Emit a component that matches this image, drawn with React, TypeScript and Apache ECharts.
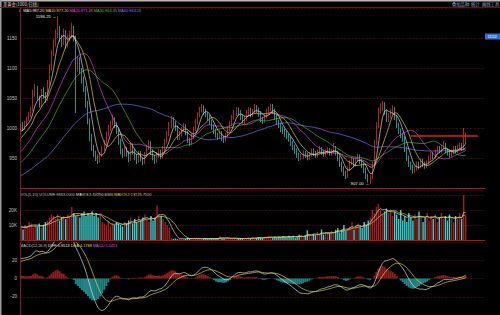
import { useEffect, useRef } from 'react';
import * as echarts from 'echarts';

// hidden history used only to seed the indicators
const preCloses = [
  885, 890, 882, 878, 886, 895, 900, 893, 888, 896,
  902, 908, 899, 894, 890, 897, 905, 910, 903, 898,
  892, 900, 906, 912, 905, 899, 903, 909, 915, 908,
  902, 897, 904, 911, 906, 900, 907, 913, 910, 905,
  915, 922, 918, 928, 935, 930, 940, 946, 942, 955,
  960, 968, 962, 975, 982, 978, 990, 985, 995, 1000,
];
const preVolumes = [9, 8, 10, 7, 9, 11, 8, 10, 9, 8];

// [open, close, low, high]
const candlesA: number[][] = [
  [998, 1003, 994, 1008], [1003, 1000, 995, 1010], [1000, 1008, 997, 1012], [1008, 1015, 1004, 1019],
  [1015, 1022, 1012, 1027], [1022, 1030, 1018, 1035], [1030, 1058, 1028, 1064], [1058, 1066, 1052, 1074],
  [1066, 1050, 1046, 1070], [1050, 1038, 1034, 1054], [1038, 1060, 1035, 1065], [1060, 1055, 1049, 1068],
  [1055, 1048, 1042, 1060], [1048, 1075, 1045, 1080], [1075, 1100, 1072, 1106], [1100, 1125, 1096, 1130],
  [1125, 1140, 1120, 1148], [1140, 1158, 1136, 1164], [1158, 1165, 1150, 1186.25], [1165, 1150, 1144, 1170],
  [1150, 1142, 1135, 1155], [1142, 1160, 1138, 1166], [1160, 1138, 1132, 1163], [1138, 1150, 1134, 1156],
  [1150, 1156, 1145, 1162], [1156, 1166, 1150, 1176], [1166, 1150, 1144, 1170], [1150, 1100, 1025, 1154],
  [1100, 1112, 1094, 1120], [1112, 1095, 1090, 1118], [1095, 1080, 1074, 1100], [1080, 1066, 1060, 1086],
  [1066, 1040, 1034, 1070], [1040, 1012, 1006, 1045], [1012, 985, 978, 1016], [985, 968, 962, 990],
  [968, 958, 952, 972], [958, 950, 945, 962], [950, 945, 940, 956], [945, 955, 942, 960],
  [955, 966, 952, 970], [966, 976, 962, 980], [976, 990, 972, 994], [990, 1000, 986, 1005],
  [1000, 1008, 995, 1012], [1008, 1015, 1004, 1022], [1015, 1006, 1000, 1018], [1006, 995, 990, 1010],
  [995, 978, 972, 998], [978, 962, 956, 982], [962, 955, 950, 966], [955, 965, 952, 970],
  [965, 958, 952, 968], [958, 948, 943, 962], [948, 970, 945, 975], [970, 962, 956, 974],
  [962, 952, 946, 966], [952, 945, 940, 956], [945, 958, 942, 962], [958, 948, 944, 962],
  [948, 942, 938, 952], [942, 955, 940, 960], [955, 968, 952, 972], [968, 975, 964, 980],
  [975, 960, 955, 978], [960, 950, 946, 964], [950, 945, 940, 955], [945, 955, 942, 960],
  [955, 960, 950, 965], [960, 952, 948, 964], [952, 965, 949, 970], [965, 978, 962, 982],
  [978, 990, 974, 995], [990, 1005, 986, 1010], [1005, 1015, 1000, 1020], [1015, 1008, 1002, 1018],
  [1008, 1000, 995, 1012], [1000, 985, 980, 1004], [985, 990, 980, 995], [990, 998, 986, 1002],
  [998, 1002, 994, 1008], [1002, 992, 988, 1006], [992, 980, 975, 995], [980, 975, 970, 984],
  [975, 985, 972, 990], [985, 998, 982, 1002], [998, 1010, 995, 1015], [1010, 1022, 1006, 1026],
  [1022, 1030, 1018, 1035], [1030, 1035, 1026, 1040], [1035, 1028, 1022, 1038], [1028, 1022, 1018, 1032],
  [1022, 1018, 1012, 1026], [1018, 1010, 1005, 1022], [1010, 1002, 997, 1014], [1002, 995, 990, 1006],
  [995, 988, 984, 999], [988, 985, 980, 992], [985, 992, 982, 996], [992, 983, 978, 995],
  [983, 980, 975, 987], [980, 988, 977, 992], [988, 998, 985, 1002], [998, 1008, 994, 1012],
  [1008, 1018, 1004, 1022], [1018, 1025, 1014, 1030], [1025, 1030, 1020, 1035], [1030, 1026, 1021, 1034],
  [1026, 1018, 1013, 1030], [1018, 1012, 1008, 1022],
];
const candlesB: number[][] = [
  [1012, 1015, 1006, 1020], [1015, 1025, 1012, 1030],
  [1025, 1030, 1020, 1035], [1030, 1022, 1018, 1034], [1022, 1028, 1018, 1032], [1028, 1035, 1024, 1040],
  [1035, 1030, 1025, 1038], [1030, 1024, 1019, 1034], [1024, 1015, 1010, 1028], [1015, 1012, 1007, 1019],
  [1012, 1020, 1009, 1024], [1020, 1028, 1016, 1032], [1028, 1032, 1024, 1036], [1032, 1036, 1028, 1041],
  [1036, 1028, 1023, 1040], [1028, 1018, 1013, 1032], [1018, 1010, 1005, 1022], [1010, 1005, 1000, 1014],
  [1005, 998, 993, 1009], [998, 995, 990, 1003], [995, 990, 985, 999], [990, 986, 981, 995],
  [986, 982, 977, 990], [982, 975, 970, 986], [975, 968, 963, 979], [968, 962, 957, 972],
  [962, 955, 950, 966], [955, 950, 945, 959], [950, 952, 946, 957], [952, 958, 948, 962],
  [958, 955, 950, 962], [955, 950, 946, 959], [950, 956, 947, 960], [956, 962, 952, 966],
  [962, 958, 953, 966], [958, 954, 950, 962], [954, 960, 951, 964], [960, 965, 956, 970],
  [965, 960, 955, 968], [960, 956, 952, 964], [956, 960, 952, 964], [960, 964, 956, 968],
  [964, 958, 954, 967], [958, 962, 954, 966], [962, 966, 958, 975], [966, 958, 954, 970],
  [958, 950, 945, 962], [950, 940, 935, 954], [940, 932, 927, 944], [932, 925, 920, 936],
  [925, 920, 915, 929], [920, 932, 917, 936], [932, 942, 928, 946], [942, 946, 938, 951],
  [946, 940, 935, 950], [940, 948, 936, 952], [948, 952, 944, 957], [952, 945, 940, 956],
  [945, 938, 933, 949], [938, 930, 925, 942], [930, 920, 915, 934], [920, 914, 909, 924],
  [914, 918, 907, 922], [918, 940, 915, 944], [940, 975, 937, 980], [975, 1005, 972, 1010],
  [1005, 1030, 1000, 1034], [1030, 1036, 1024, 1041], [1036, 1040, 1028, 1045], [1040, 1028, 1022, 1043],
  [1028, 1015, 1010, 1031], [1015, 1020, 1010, 1025], [1020, 1028, 1016, 1032], [1028, 1032, 1022, 1038],
  [1032, 1018, 1013, 1035], [1018, 1005, 1000, 1022], [1005, 995, 990, 1009], [995, 988, 983, 999],
  [988, 982, 977, 992], [982, 965, 960, 986], [965, 950, 945, 969], [950, 940, 935, 954],
  [940, 935, 930, 944], [935, 928, 924, 939], [928, 932, 925, 936], [932, 940, 929, 944],
  [940, 936, 931, 944], [936, 945, 933, 949], [945, 940, 935, 949], [940, 936, 932, 944],
  [936, 942, 933, 946], [942, 950, 939, 954], [950, 956, 946, 960], [956, 952, 948, 960],
  [952, 960, 949, 964], [960, 966, 956, 970], [966, 962, 958, 970], [962, 968, 958, 972],
  [968, 972, 964, 978], [972, 962, 958, 975], [962, 958, 954, 966], [958, 955, 951, 962],
  [955, 960, 952, 964], [960, 966, 956, 970], [966, 962, 958, 970], [962, 968, 958, 972],
  [968, 972, 964, 976], [972, 966, 962, 975], [966, 978, 963, 1000], [978, 987, 974, 992],
];

// volume in thousands
const volumesA = [
  8, 7, 10, 9, 12, 11, 8, 10, 9, 11, 8, 10, 12,
  13, 15, 17, 16, 14, 17, 13, 15, 16, 14, 17, 15, 22, 18, 16,
  17, 15, 18, 19, 16, 18, 17, 19, 16, 18, 15, 17,
  12, 11, 10, 12, 9, 11, 10, 12, 11, 10, 9, 12, 11,
  13, 15, 11, 14, 12, 16, 13, 15, 17, 14, 12, 16, 13, 15, 23, 17,
  16, 14, 12, 10, 8,
];
const volumesB = [
  1.2, 0.8, 1.0, 0.6, 0.9, 1.1, 0.7, 0.8, 1.5, 0.9,
  1.0, 0.6, 0.8, 1.2, 0.9, 0.7, 1.0, 1.3, 0.8, 0.9,
  1.1, 0.6, 1.0, 1.4, 2.5, 1.2, 0.9, 1.1, 1.5, 1.0,
  0.8, 1.2, 0.7, 1.0, 1.3, 0.9, 1.1, 0.8, 1.6, 1.0,
  1.8, 1.2, 1.4, 2.0, 1.6, 1.3, 2.2, 1.8, 2.5, 1.9,
  1.5, 2.1, 1.7, 2.4, 1.9, 2.6, 2.0, 1.8, 2.9, 2.2,
  2.8, 1.5, 2.2, 3.5, 2.8, 2.0, 3.0, 6.5, 3.8, 2.5,
  4.0, 3.2, 5.5, 4.0, 7.0, 3.6, 4.8, 5.2, 4.4, 6.0,
  5.0, 6.8,
];
const volumesC = [
  8, 5, 7, 10, 6, 8, 9, 12, 7, 10, 11, 9, 8, 12, 10, 13, 15,
  20, 18, 22, 24, 20, 17, 19, 21, 18, 20,
  16, 19, 17, 14, 20, 13, 16, 12, 18, 15,
  13, 17, 14, 19, 16, 12, 15, 18, 13, 16,
  14, 17, 12, 15, 18, 14, 16, 13, 17, 15,
  12, 16, 14, 18,
  14, 30, 16,
];

const priceTicks = [950, 1000, 1050, 1100, 1150];
const volTicks = [10, 20];
const macdTicks = [-20, 0, 20];
const emptySlots = 9;
const arrowFrom = 192;
const arrowTo = 225;
const arrowPrice = 987;

const titleText = '美黄金(1000/日线)';
const topButtons = ['叠加品种', '统计', '画线工具'];
const cursorTag = '1152';
const maLegend = [
  { text: '4  MA5:987.20', color: '#e6e6e6' },
  { text: 'MA10:977.20', color: '#e8d84a' },
  { text: 'MA20:971.28', color: '#e04ce0' },
  { text: 'MA30:963.45', color: '#3fc43f' },
  { text: 'MA60:963.26', color: '#7a7aff' },
];
const volLegend = [
  { text: 'VOL(5,10)', color: '#c8c8c8' },
  { text: 'VOLUME:8663.0000', color: '#c8c8c8' },
  { text: 'MAVOL1:10250.6000', color: '#e6e6e6' },
  { text: 'MAVOL2:13126.7500', color: '#e8d84a' },
];
const macdLegend = [
  { text: 'MACD(12,26,9)', color: '#c8c8c8' },
  { text: 'DIFF:6.9513', color: '#e6e6e6' },
  { text: 'DEA:4.1788', color: '#e8d84a' },
  { text: 'MACD:5.5451', color: '#e04ce0' },
];

const FONT = 'Liberation Sans';

function movingAvg(all: number[], n: number, offset: number, len: number) {
  const out: (number | string)[] = [];
  for (let i = 0; i < len; i++) {
    const end = i + offset;
    if (end - n + 1 < 0) { out.push('-'); continue; }
    let s = 0;
    for (let k = end - n + 1; k <= end; k++) s += all[k];
    out.push(+(s / n).toFixed(2));
  }
  return out;
}

function ema(arr: number[], n: number) {
  const k = 2 / (n + 1);
  const out: number[] = [];
  arr.forEach((v, i) => out.push(i === 0 ? v : v * k + out[i - 1] * (1 - k)));
  return out;
}

function legendText(items: { text: string; color: string }[], x: number, y: number) {
  const rich: Record<string, any> = {};
  items.forEach((it, i) => {
    rich['s' + i] = { fill: it.color, fontSize: 3.9, fontFamily: FONT };
  });
  return {
    type: 'text',
    left: x,
    top: y,
    silent: true,
    style: {
      text: items.map((it, i) => `{s${i}|${it.text}}`).join('{s0| }'),
      rich,
      fontSize: 3.9,
      fontFamily: FONT,
    },
  };
}

export default function App() {
  const ref = useRef<HTMLDivElement>(null);
  useEffect(() => {
    if (!ref.current) return;
    const chart = echarts.init(ref.current, undefined, { renderer: 'svg' });
    const candles = candlesA.concat(candlesB);
    const volumes = volumesA.concat(volumesB, volumesC);
    const n = candles.length;
    const cats = Array.from({ length: n + emptySlots }, (_, i) => String(i));
    const closes = candles.map((c) => c[1]);
    const allCloses = preCloses.concat(closes);
    const off = preCloses.length;
    const allVol = preVolumes.concat(volumes);
    const voff = preVolumes.length;

    const ma5 = movingAvg(allCloses, 5, off, n);
    const ma10 = movingAvg(allCloses, 10, off, n);
    const ma20 = movingAvg(allCloses, 20, off, n);
    const ma30 = movingAvg(allCloses, 30, off, n);
    const ma60 = movingAvg(allCloses, 60, off, n);
    const mv5 = movingAvg(allVol, 5, voff, n);
    const mv10 = movingAvg(allVol, 10, voff, n);

    const e12 = ema(allCloses, 12);
    const e26 = ema(allCloses, 26);
    const diffAll = e12.map((v, i) => v - e26[i]);
    const deaAll = ema(diffAll, 9);
    const diff = diffAll.slice(off).map((v) => +v.toFixed(3));
    const dea = deaAll.slice(off).map((v) => +v.toFixed(3));
    const hist = diff.map((v, i) => {
      const h = +(v - dea[i]).toFixed(3);
      return { value: h, itemStyle: { color: h >= 0 ? '#8e2020' : '#1f8486' } };
    });

    const volData = volumes.map((v, i) => ({
      value: v,
      itemStyle: { color: candles[i][1] >= candles[i][0] ? '#a31e1e' : '#3ecfcf' },
    }));

    const dashed = { show: true, lineStyle: { color: '#5a1010', type: 'dashed' as const, width: 0.6 } };
    const axisLbl = (ticks: number[], fmt: (v: number) => string) => ({
      color: '#c0c0c0',
      fontSize: 4.6,
      margin: 3,
      fontFamily: FONT,
      formatter: (v: number) => (ticks.includes(Math.round(v * 1000) / 1000) ? fmt(v) : ''),
    });
    const xBase = (gi: number, showLine: boolean) => ({
      type: 'category' as const,
      gridIndex: gi,
      data: cats,
      boundaryGap: true,
      axisLabel: { show: false },
      axisTick: { show: false },
      axisLine: { show: showLine, lineStyle: { color: '#a01c1c', width: 1 } },
      splitLine: { show: false },
    });
    const lineS = (data: any[], color: string, xi: number, yi: number) => ({
      type: 'line',
      data,
      xAxisIndex: xi,
      yAxisIndex: yi,
      symbol: 'none',
      lineStyle: { color, width: 0.65 },
      silent: true,
    });
    const yBase = (gi: number, min: number, max: number, interval: number) => ({
      gridIndex: gi, min, max, interval,
      axisLine: { show: true, lineStyle: { color: '#7a2020' } },
      axisTick: { show: false },
      splitLine: dashed,
    });

    chart.setOption({
      animation: false,
      backgroundColor: '#000',
      grid: [
        { left: 20, right: 15, top: 8, height: 180 },
        { left: 20, right: 15, top: 190, height: 50 },
        { left: 20, right: 15, top: 242, height: 80 },
      ],
      xAxis: [xBase(0, true), xBase(1, true), xBase(2, false)],
      yAxis: [
        { ...yBase(0, 900, 1200, 50), axisLabel: axisLbl(priceTicks, (v) => String(v)) },
        { ...yBase(1, 0, 100 / 3, 10), axisLabel: axisLbl(volTicks, (v) => v + 'K') },
        { ...yBase(2, -40, 40, 20), axisLabel: axisLbl(macdTicks, (v) => String(v)) },
      ],
      series: [
        {
          type: 'candlestick',
          data: candles,
          xAxisIndex: 0,
          yAxisIndex: 0,
          barWidth: '62%',
          itemStyle: {
            color: '#000',
            color0: '#3ecfcf',
            borderColor: '#ff3434',
            borderColor0: '#3ecfcf',
            borderWidth: 0.7,
          },
          markPoint: {
            symbol: 'circle',
            symbolSize: 0.1,
            silent: true,
            label: {
              show: true,
              position: 'left',
              distance: 1,
              color: '#e6e6e6',
              fontSize: 4.3,
              fontFamily: FONT,
              formatter: (p: any) => Number(p.value).toFixed(2) + ' →',
            },
            data: [
              { type: 'max', valueDim: 'highest' },
              { type: 'min', valueDim: 'lowest' },
            ],
          },
          markLine: {
            silent: true,
            symbol: ['none', 'arrow'],
            symbolSize: [0, 6],
            label: { show: false },
            lineStyle: { color: '#d42424', width: 1.6, type: 'solid' },
            data: [[
              { coord: [String(arrowFrom), arrowPrice], symbol: 'none' },
              { coord: [String(arrowTo), arrowPrice], symbol: 'arrow' },
            ]],
          },
        },
        lineS(ma60, '#7a7aff', 0, 0),
        lineS(ma30, '#3fc43f', 0, 0),
        lineS(ma20, '#e04ce0', 0, 0),
        lineS(ma10, '#e8d84a', 0, 0),
        lineS(ma5, '#e6e6e6', 0, 0),
        { type: 'bar', data: volData, xAxisIndex: 1, yAxisIndex: 1, barWidth: '70%', silent: true },
        lineS(mv5, '#e6e6e6', 1, 1),
        lineS(mv10, '#e8d84a', 1, 1),
        { type: 'bar', data: hist, xAxisIndex: 2, yAxisIndex: 2, barWidth: '100%', silent: true },
        lineS(diff, '#e6e6e6', 2, 2),
        lineS(dea, '#e8d84a', 2, 2),
      ],
      graphic: [
        { type: 'rect', left: 0, top: 0, shape: { width: 500, height: 1.5 }, style: { fill: '#b8b8b8' }, silent: true },
        { type: 'rect', left: 0, top: 0, shape: { width: 1.5, height: 315 }, style: { fill: '#9a9a9a' }, silent: true },
        { type: 'line', shape: { x1: 0, y1: 7.5, x2: 500, y2: 7.5 }, style: { stroke: '#7a1a1a', lineWidth: 0.8 }, silent: true },
        {
          type: 'text', left: 3, top: 2.2,
          style: { text: titleText, fill: '#d8d8d8', fontSize: 4.3, fontFamily: 'Noto Sans CJK SC' }, silent: true,
        },
        ...topButtons.map((t, i) => ({
          type: 'text', left: [452, 471, 482][i], top: 2.2,
          style: { text: t, fill: '#8fa8c8', fontSize: 4.3, fontFamily: 'Noto Sans CJK SC' }, silent: true,
        })),
        { type: 'rect', left: 485, top: 33.5, shape: { width: 15, height: 6 }, style: { fill: '#2f6fd0' }, silent: true },
        {
          type: 'text', left: 487.5, top: 34.6,
          style: { text: cursorTag, fill: '#ffffff', fontSize: 4.3, fontFamily: FONT }, silent: true,
        },
        legendText(maLegend, 19, 8.8),
        legendText(volLegend, 20, 192),
        legendText(macdLegend, 20, 243),
      ],
    });
    return () => chart.dispose();
  }, []);
  return (
    <div
      ref={ref}
      style={{ position: 'fixed', left: 0, top: 0, width: 500, height: 315, background: '#000' }}
    />
  );
}
